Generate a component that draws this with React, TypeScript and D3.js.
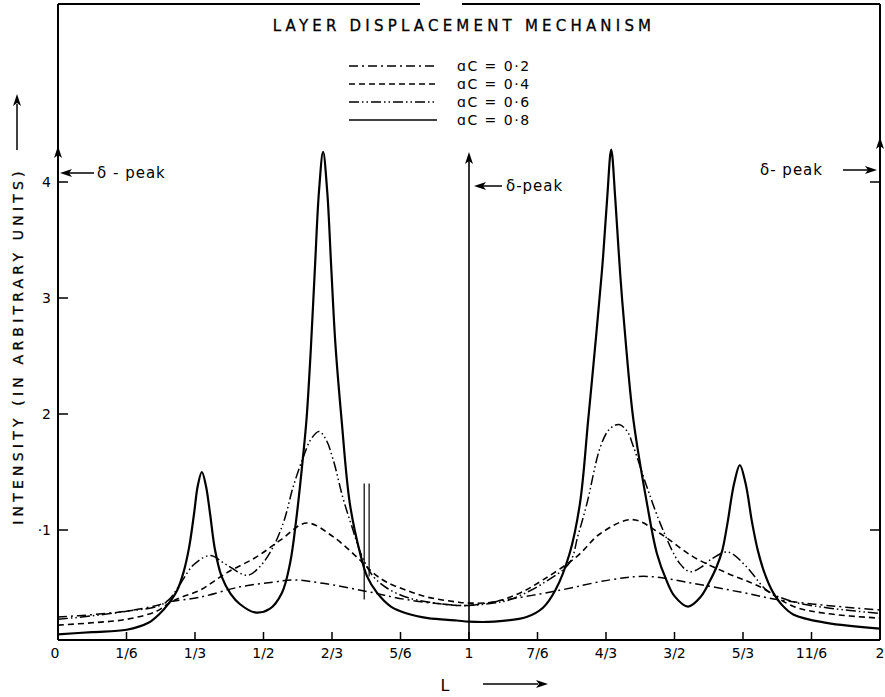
import React from 'react';
import * as d3 from 'd3';

// intensity curves, [L, intensity]
const alpha02: [number, number][] = [
  [0, 0.25], [0.083, 0.27], [0.167, 0.3], [0.24, 0.35], [0.27, 0.38], [0.345, 0.42],
  [0.443, 0.51], [0.523, 0.55], [0.572, 0.57], [0.645, 0.54], [0.752, 0.47], [0.848, 0.4],
  [0.97, 0.35], [1.0, 0.35], [1.06, 0.38], [1.22, 0.48], [1.343, 0.57], [1.433, 0.6],
  [1.545, 0.54], [1.667, 0.46], [1.75, 0.4], [1.87, 0.35], [2.0, 0.31],
];
const alpha04: [number, number][] = [
  [0, 0.18], [0.083, 0.2], [0.167, 0.23], [0.24, 0.3], [0.27, 0.37], [0.3, 0.42],
  [0.345, 0.48], [0.41, 0.63], [0.484, 0.77], [0.54, 0.91], [0.605, 1.06], [0.67, 0.94],
  [0.735, 0.74], [0.767, 0.63], [0.8, 0.55], [0.848, 0.48], [0.9, 0.42], [0.97, 0.38],
  [1.0, 0.37], [1.06, 0.38], [1.12, 0.45], [1.18, 0.57], [1.262, 0.77], [1.32, 0.97],
  [1.397, 1.09], [1.465, 0.97], [1.545, 0.77], [1.627, 0.63], [1.708, 0.51], [1.79, 0.34],
  [1.87, 0.28], [2.0, 0.24],
];
const alpha06: [number, number][] = [
  [0, 0.23], [0.083, 0.26], [0.167, 0.3], [0.24, 0.34], [0.27, 0.4], [0.3, 0.55],
  [0.33, 0.7], [0.37, 0.78], [0.41, 0.7], [0.46, 0.61], [0.49, 0.68], [0.523, 0.85],
  [0.55, 1.08], [0.572, 1.37], [0.597, 1.63], [0.615, 1.78], [0.635, 1.85], [0.652, 1.78],
  [0.67, 1.6], [0.693, 1.28], [0.715, 1.03], [0.74, 0.77], [0.767, 0.6], [0.8, 0.5],
  [0.848, 0.42], [0.9, 0.38], [0.97, 0.35], [1.0, 0.35], [1.06, 0.37], [1.1, 0.4],
  [1.18, 0.54], [1.245, 0.72], [1.265, 0.95], [1.287, 1.23], [1.32, 1.72], [1.342, 1.87],
  [1.365, 1.91], [1.385, 1.85], [1.4, 1.72], [1.433, 1.37], [1.472, 1.0], [1.513, 0.71],
  [1.538, 0.64], [1.565, 0.68], [1.586, 0.74], [1.63, 0.81], [1.676, 0.68], [1.725, 0.48],
  [1.79, 0.38], [1.87, 0.33], [2.0, 0.28],
];
const alpha08: [number, number][] = [
  [0, 0.1], [0.083, 0.12], [0.167, 0.14], [0.22, 0.2], [0.245, 0.27], [0.27, 0.37],
  [0.29, 0.48], [0.305, 0.63], [0.319, 0.85], [0.331, 1.14], [0.34, 1.38], [0.35, 1.5],
  [0.36, 1.38], [0.37, 1.14], [0.382, 0.83], [0.398, 0.6], [0.42, 0.45], [0.443, 0.36],
  [0.479, 0.29], [0.515, 0.32], [0.545, 0.46], [0.565, 0.72], [0.58, 1.1], [0.597, 1.66],
  [0.605, 1.97], [0.615, 2.55], [0.625, 3.25], [0.635, 3.92], [0.645, 4.26], [0.655, 3.92],
  [0.665, 3.25], [0.675, 2.6], [0.69, 1.95], [0.71, 1.23], [0.735, 0.8], [0.752, 0.6],
  [0.776, 0.46], [0.81, 0.34], [0.849, 0.28], [0.9, 0.24], [0.97, 0.22], [1.0, 0.21],
  [1.06, 0.21], [1.14, 0.25], [1.18, 0.33], [1.21, 0.48], [1.245, 0.8], [1.27, 1.23],
  [1.29, 1.95], [1.31, 2.7], [1.325, 3.3], [1.336, 3.85], [1.346, 4.28], [1.356, 3.85],
  [1.368, 3.2], [1.383, 2.55], [1.4, 1.95], [1.433, 1.23], [1.457, 0.8], [1.48, 0.57],
  [1.5, 0.43], [1.533, 0.34], [1.565, 0.43], [1.586, 0.56], [1.601, 0.67], [1.616, 0.82],
  [1.628, 1.04], [1.645, 1.4], [1.659, 1.56], [1.673, 1.4], [1.689, 1.06], [1.703, 0.82],
  [1.72, 0.62], [1.74, 0.46], [1.76, 0.36], [1.79, 0.27], [1.87, 0.2], [2.0, 0.15],
];

const series = [
  { label: 'ɑC = 0·2', data: alpha02, dash: '9,4,2,4', width: 1.5 },
  { label: 'ɑC = 0·4', data: alpha04, dash: '6,4', width: 1.6 },
  { label: 'ɑC = 0·6', data: alpha06, dash: '10,3,1.5,3,1.5,3', width: 1.5 },
  { label: 'ɑC = 0·8', data: alpha08, dash: null, width: 2.2 },
];

const xTicks = [0, 1 / 6, 1 / 3, 1 / 2, 2 / 3, 5 / 6, 1, 7 / 6, 4 / 3, 3 / 2, 5 / 3, 11 / 6, 2];
const xTickLabels = ['0', '1/6', '1/3', '1/2', '2/3', '5/6', '1', '7/6', '4/3', '3/2', '5/3', '11/6', '2'];
const yTicks = [1, 2, 3, 4];
const yTickLabels = ['·1', '2', '3', '4'];
const rightTicks = [1, 4];
// the two short marks near L = 3/4
const marks: [number, number, number][] = [[0.745, 0.4, 1.4], [0.757, 0.6, 1.4]];

const W = 885, H = 697;
const left = 58, right = 880, top = 4, bottom = 640;
const font = '"DejaVu Sans", sans-serif';

export default function App() {
  const x = d3.scaleLinear().domain([0, 2]).range([left, right]);
  const y = d3.scaleLinear().domain([1, 4]).range([530, 182]);

  const line = d3.line<[number, number]>()
    .x((d) => x(d[0]))
    .y((d) => y(d[1]))
    .curve(d3.curveCatmullRom.alpha(0.5));

  const up = (cx: number, cy: number) =>
    `M${cx},${cy} L${cx - 4},${cy + 12} L${cx},${cy + 9} L${cx + 4},${cy + 12} Z`;
  const head = (tx: number, ty: number, dir: number) =>
    `M${tx},${ty} L${tx - dir * 12},${ty - 4} L${tx - dir * 9},${ty} L${tx - dir * 12},${ty + 4} Z`;

  const legX1 = 349, legX2 = 437, legRow0 = 66, legStep = 18;

  return (
    <svg width={W} height={H} style={{ position: 'absolute', left: 0, top: 0, background: '#fff' }}>
      <rect x={0} y={0} width={W} height={H} fill="#fff" />
      {/* frame */}
      <g stroke="#000" strokeWidth={2} fill="none">
        <line x1={left} y1={top} x2={left} y2={bottom} />
        <line x1={right} y1={top} x2={right} y2={bottom} />
        <line x1={left} y1={bottom} x2={right} y2={bottom} />
        <line x1={left} y1={top} x2={420} y2={top} />
        <line x1={462} y1={top} x2={right} y2={top} />
        <line x1={x(1)} y1={bottom} x2={x(1)} y2={156} strokeWidth={1.6} />
      </g>

      {/* ticks */}
      {xTicks.map((t, i) => (
        <g key={'xt' + i}>
          {i > 0 && i < xTicks.length - 1 && (
            <line x1={x(t)} x2={x(t)} y1={bottom} y2={bottom - 8} stroke="#000" strokeWidth={1.5} />
          )}
          <text x={x(t) + (i === 0 ? -3 : 0)} y={658} textAnchor="middle" fontFamily={font} fontSize={14}>
            {xTickLabels[i]}
          </text>
        </g>
      ))}
      {yTicks.map((t, i) => (
        <g key={'yt' + i}>
          <line x1={left} x2={left + 10} y1={y(t)} y2={y(t)} stroke="#000" strokeWidth={1.5} />
          <text x={51} y={y(t) + 5} textAnchor="end" fontFamily={font} fontSize={14}>
            {yTickLabels[i]}
          </text>
        </g>
      ))}
      {rightTicks.map((t) => (
        <line key={'rt' + t} x1={right} x2={right - 10} y1={y(t)} y2={y(t)} stroke="#000" strokeWidth={1.5} />
      ))}

      {/* curves */}
      {series.map((s) => (
        <path key={s.label} d={line(s.data) || ''} fill="none" stroke="#000"
          strokeWidth={s.width} strokeDasharray={s.dash || undefined} />
      ))}
      {marks.map((m, i) => (
        <line key={'m' + i} x1={x(m[0])} x2={x(m[0])} y1={y(m[1])} y2={y(m[2])} stroke="#000" strokeWidth={1.2} />
      ))}

      {/* delta peaks */}
      <path d={up(left, 146)} fill="#000" />
      <path d={up(x(1), 152)} fill="#000" />
      <path d={up(right, 137)} fill="#000" />
      <line x1={94} x2={64} y1={173} y2={173} stroke="#000" strokeWidth={1.5} />
      <path d={head(60, 173, -1)} fill="#000" />
      <text x={97} y={178} fontFamily={font} fontSize={15} letterSpacing={1}>δ - peak</text>
      <line x1={502} x2={478} y1={186} y2={186} stroke="#000" strokeWidth={1.5} />
      <path d={head(474, 186, -1)} fill="#000" />
      <text x={506} y={191} fontFamily={font} fontSize={15} letterSpacing={1}>δ-peak</text>
      <text x={760} y={175} fontFamily={font} fontSize={15} letterSpacing={1}>δ- peak</text>
      <line x1={843} x2={872} y1={170} y2={170} stroke="#000" strokeWidth={1.5} />
      <path d={head(877, 170, 1)} fill="#000" />

      {/* title + legend */}
      <text x={464} y={31} textAnchor="middle" fontFamily={font} fontSize={15} letterSpacing={4.2}
        stroke="#000" strokeWidth={0.3}>
        LAYER DISPLACEMENT MECHANISM
      </text>
      {series.map((s, i) => (
        <g key={'leg' + i}>
          <line x1={legX1} x2={legX2} y1={legRow0 + i * legStep} y2={legRow0 + i * legStep}
            stroke="#000" strokeWidth={1.3} strokeDasharray={s.dash || undefined} />
          <text x={457} y={legRow0 + i * legStep + 5} fontFamily={font} fontSize={14} letterSpacing={1.5}>
            {s.label}
          </text>
        </g>
      ))}

      {/* axis titles */}
      <text transform="translate(23,346) rotate(-90)" textAnchor="middle" fontFamily={font} fontSize={14}
        letterSpacing={4.2} stroke="#000" strokeWidth={0.3}>
        INTENSITY (IN ARBITRARY UNITS)
      </text>
      <line x1={17} x2={17} y1={150} y2={104} stroke="#000" strokeWidth={1.5} />
      <path d={up(17, 94)} fill="#000" />
      <text x={445} y={691} textAnchor="middle" fontFamily={font} fontSize={16}>L</text>
      <line x1={483} x2={538} y1={684} y2={684} stroke="#000" strokeWidth={1.5} />
      <path d={head(548, 684, 1)} fill="#000" />
    </svg>
  );
}
